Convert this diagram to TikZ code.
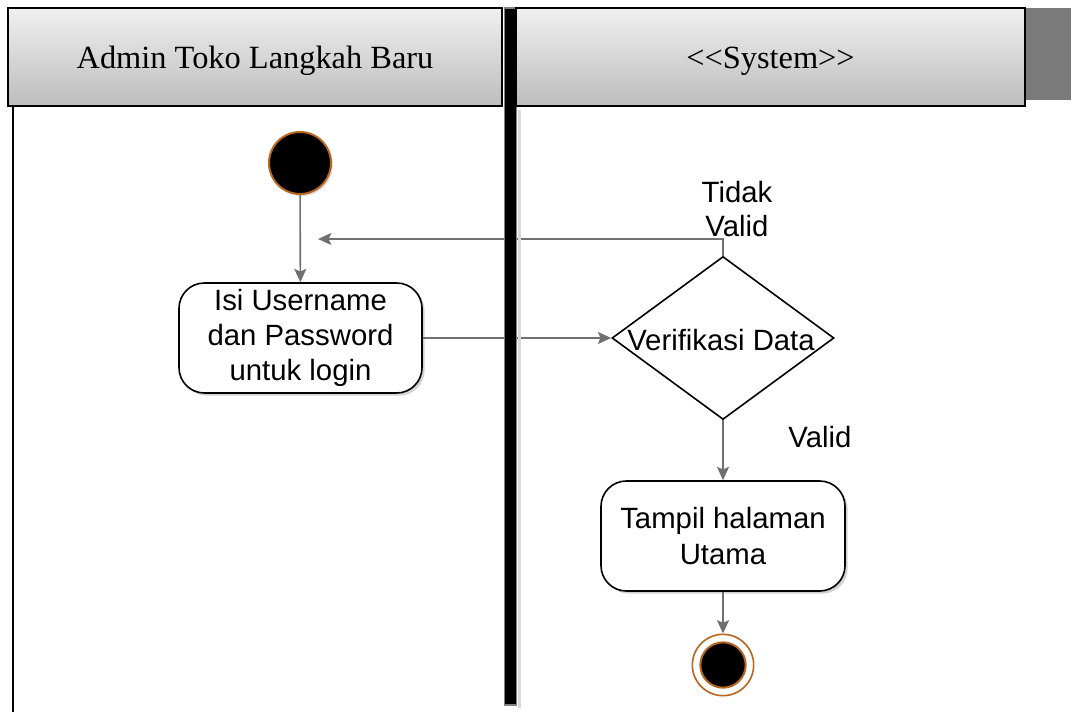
\documentclass[tikz,border=0pt]{standalone}
\usepackage{fontspec}
\setmainfont{Liberation Serif}
\newfontfamily\arialfont{Liberation Sans}
\usetikzlibrary{shapes.geometric,arrows.meta,shadows}
\definecolor{conn}{HTML}{707070}
\definecolor{ring}{HTML}{B8651E}
\definecolor{hdtop}{HTML}{F0F0F0}
\definecolor{hdbot}{HTML}{BDBDBD}
\tikzset{
  header/.style={draw=black, line width=1.5pt, top color=hdtop, bottom color=hdbot,
    font=\fontsize{24.3}{28}\selectfont, inner sep=0pt, text height=22pt, text depth=4pt},
  action/.style={draw=black, line width=1.2pt, fill=white, rounded corners=19pt,
    align=center, inner sep=0pt, font=\arialfont\fontsize{22}{26.3}\selectfont,
    drop shadow={opacity=0.35, shadow xshift=2pt, shadow yshift=-2pt}},
  decision/.style={diamond, draw=black, line width=1.2pt, fill=white, inner sep=0pt,
    minimum width=166.5pt, minimum height=122.25pt},
  startnode/.style={circle, fill=black, draw=ring, line width=1.5pt, minimum size=46.5pt, inner sep=0pt,
    drop shadow={opacity=0.25, shadow xshift=1.5pt, shadow yshift=-1.5pt}},
  endring/.style={circle, draw=ring, line width=1.2pt, fill=white, minimum size=46pt, inner sep=0pt},
  enddot/.style={circle, fill=black, draw=ring, line width=1.5pt, minimum size=34pt, inner sep=0pt},
  conn/.style={draw=conn, line width=1.2pt, -{Stealth[length=10pt,width=9pt,inset=2pt]}},
  lbl/.style={font=\arialfont\fontsize{22}{25}\selectfont, align=center, inner sep=0pt},
}
\begin{document}
\begin{tikzpicture}[x=0.75pt,y=-0.75pt]
\useasboundingbox (0,0) rectangle (1073,712);
% gray block behind right header
\fill[fill=black!52] (1020,8) rectangle (1071,100);
% left lane line
\draw[line width=2pt] (13,104) -- (13,712);
% nodes
\node[startnode] (start) at (300,163) {};
\node[action, minimum width=182.25pt, minimum height=82.5pt] (a1) at (300.5,338) {Isi Username\\dan Password\\untuk login};
\node[decision] (dec) at (723,338) {};
\node[lbl] (dectxt) at (721,340) {Verifikasi Data};
\node[action, minimum width=183pt, minimum height=82.5pt] (a2) at (723,536) {Tampil halaman\\Utama};
\node[endring] (endo) at (723,665) {};
\node[enddot] (endi) at (endo) {};
\coordinate (back) at (318,239);
\coordinate (bend) at (723,239);
% connectors
\draw[conn] (start) -- (a1);
\draw[conn] (a1.east) -- (dec.west);
\draw[conn] (dec.north) -- (bend) -- (back);
\draw[conn] (dec.south) -- (a2.north);
\draw[conn] (a2.south) -- (endo.north);
% labels
\node[lbl] (ltv) at (737,209) {Tidak\\Valid};
\node[lbl] (lv) at (820,437) {Valid};
% thick vertical bar (on top of connectors)
\fill[black!15] (517.5,110) rectangle (521,708);
\draw[fill=black, draw=black!50, line width=1pt] (504.5,8) rectangle (516.5,705);
% headers
\node[header, minimum width=370.5pt, minimum height=73.5pt] (hA) at (255,57) {Admin Toko Langkah Baru};
\node[header, minimum width=381.75pt, minimum height=73.5pt] (hS) at (770.5,57) {{<}{<}System{>}{>}};
\end{tikzpicture}
\end{document}
